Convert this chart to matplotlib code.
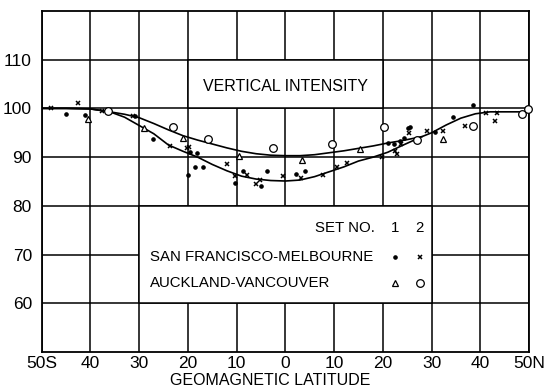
import matplotlib
matplotlib.use("Agg")
import matplotlib.pyplot as plt
from matplotlib.patches import Rectangle

plt.rcParams['font.family'] = ['Liberation Sans', 'DejaVu Sans']

# ---- data ----
x_ticks = [-50, -40, -30, -20, -10, 0, 10, 20, 30, 40, 50]
x_tick_labels = ["50S", "40", "30", "20", "10", "0", "10", "20", "30", "40", "50N"]
y_ticks = [60, 70, 80, 90, 100, 110]

# San Francisco - Melbourne, set 1 (dots)
sf1_x = [-45.0, -41.2, -30.9, -27.2, -19.9, -19.6, -18.5, -18.1, -17.0, -10.3, -8.6,
         -4.9, -3.7, 2.2, 4.0, 21.0, 22.3, 23.6, 24.4, 25.2, 25.6, 30.7, 34.5, 38.6]
sf1_y = [98.8, 98.6, 98.4, 93.7, 86.3, 91.1, 88.0, 90.8, 87.9, 84.7, 87.2,
         84.1, 87.2, 86.5, 87.2, 93.0, 92.8, 93.4, 94.0, 95.9, 96.2, 95.2, 98.2, 100.8]

# San Francisco - Melbourne, set 2 (crosses)
sf2_x = [-48.0, -42.5, -37.6, -31.2, -23.7, -20.2, -19.7, -12.0, -10.3, -7.9, -6.0,
         -5.2, -0.5, 3.2, 7.8, 10.5, 12.6, 19.8, 22.6, 23.0, 23.8, 25.4, 29.0, 32.4,
         36.9, 41.2, 43.0, 43.4]
sf2_y = [100.0, 101.2, 99.4, 98.4, 92.3, 91.8, 92.1, 88.6, 86.1, 86.3, 84.5,
         85.4, 86.2, 85.7, 86.3, 87.9, 88.7, 90.1, 91.3, 90.7, 92.6, 94.9, 95.3, 95.4,
         96.4, 99.0, 97.4, 99.0]

# Auckland - Vancouver, set 1 (triangles)
av1_x = [-40.4, -29.0, -21.1, -9.5, 3.4, 15.4, 32.3]
av1_y = [97.8, 95.9, 93.9, 90.3, 89.5, 91.7, 93.7]

# Auckland - Vancouver, set 2 (circles)
av2_x = [-36.3, -23.1, -15.8, -2.6, 9.5, 20.2, 27.0, 38.6, 48.5, 49.7]
av2_y = [99.4, 96.1, 93.7, 91.8, 92.7, 96.2, 93.5, 96.4, 98.8, 99.8]

# Hand-drawn curves
upper_x = [-50, -45, -40, -36, -33, -30, -27, -24, -21, -18, -15, -12, -9, -6, -3,
           0, 3, 6, 9, 12, 15, 18, 21, 24, 28]
upper_y = [100, 100, 99.9, 99.3, 98.8, 98.1, 96.9, 95.6, 94.4, 93.5, 92.7, 91.9, 91.2,
           90.7, 90.4, 90.3, 90.3, 90.5, 90.9, 91.3, 91.8, 92.3, 92.9, 93.4, 94.2]
lower_x = [-50, -45, -40, -36, -33, -30, -27, -24, -21, -18, -15, -12, -9, -6, -3,
           0, 3, 6, 9, 12, 15, 18, 21, 24, 28, 30, 33, 36, 39, 42, 45, 50]
lower_y = [100, 100, 99.9, 99.3, 98.2, 96.5, 94.8, 92.5, 91.2, 90.0, 88.5, 87.2, 86.1,
           85.5, 85.2, 85.1, 85.3, 86.0, 87.0, 88.0, 89.2, 90.0, 91.0, 92.4, 94.2, 95.0,
           96.6, 98.0, 98.9, 99.3, 99.3, 99.3]

# ---- figure ----
fig = plt.figure(figsize=(5.46, 3.87), dpi=100)
ax = fig.add_axes([0.0764, 0.0904, 0.8925, 0.8812])
ax.set_xlim(-50, 50)
ax.set_ylim(50, 120)
ax.set_xticks(x_ticks)
ax.set_xticklabels(x_tick_labels)
ax.set_yticks(y_ticks)
ax.tick_params(length=0, labelsize=12.5)
ax.tick_params(axis='x', pad=3)
ax.tick_params(axis='y', pad=7)
ax.grid(True, color='black', lw=1.1, zorder=0)
ax.set_axisbelow(True)
for s in ax.spines.values():
    s.set_linewidth(1.3)

# white boxes over the grid
ax.add_patch(Rectangle((-20, 100), 40, 10, facecolor='white', edgecolor='black',
                       lw=1.1, zorder=1))
ax.add_patch(Rectangle((-30, 60), 60, 20, facecolor='white', edgecolor='black',
                       lw=1.1, zorder=1))

ax.plot(upper_x, upper_y, color='black', lw=1.2, zorder=3)
ax.plot(lower_x, lower_y, color='black', lw=1.2, zorder=3)

ax.plot(sf1_x, sf1_y, 'o', ms=2.3, color='black', zorder=4, clip_on=False)
ax.plot(sf2_x, sf2_y, 'x', ms=3.5, mew=1.1, color='black', zorder=4, clip_on=False)
ax.plot(av1_x, av1_y, '^', ms=5, mfc='white', mec='black', mew=0.9, zorder=4, clip_on=False)
ax.plot(av2_x, av2_y, 'o', ms=5.5, mfc='white', mec='black', mew=0.9, zorder=4, clip_on=False)

ax.text(0, 104.4, "VERTICAL INTENSITY", ha='center', va='center', fontsize=11.5, zorder=5)

# legend block
lfs = 10.8
ax.text(6.1, 75.5, "SET NO.", ha='left', va='center', fontsize=lfs, zorder=5)
ax.text(22.6, 75.5, "1", ha='center', va='center', fontsize=lfs, zorder=5)
ax.text(27.6, 75.5, "2", ha='center', va='center', fontsize=lfs, zorder=5)
ax.text(-27.8, 69.5, "SAN FRANCISCO-MELBOURNE", ha='left', va='center', fontsize=lfs, zorder=5)
ax.text(-27.8, 64.2, "AUCKLAND-VANCOUVER", ha='left', va='center', fontsize=lfs, zorder=5)
ax.plot([22.6], [69.5], 'o', ms=2.3, color='black', zorder=5)
ax.plot([27.6], [69.5], 'x', ms=3.5, mew=1.1, color='black', zorder=5)
ax.plot([22.6], [64.2], '^', ms=5, mfc='white', mec='black', mew=0.9, zorder=5)
ax.plot([27.6], [64.2], 'o', ms=5.5, mfc='white', mec='black', mew=0.9, zorder=5)

fig.text(0.495, 0.006, "GEOMAGNETIC LATITUDE", ha='center', va='baseline', fontsize=11.5)

fig.savefig("out.png", dpi=100, facecolor='white')
